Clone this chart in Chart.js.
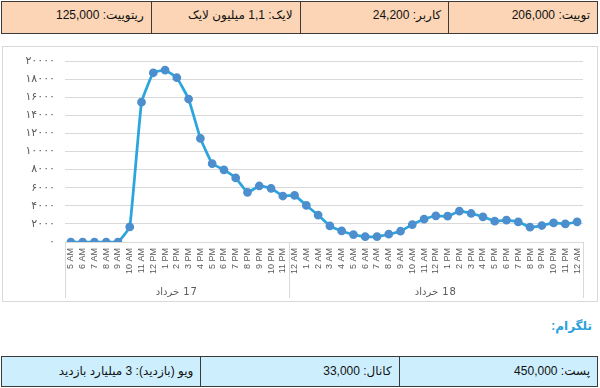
<!DOCTYPE html>
<html>
<head>
<meta charset="utf-8">
<script src="https://cdn.jsdelivr.net/npm/chart.js@4.4.1/dist/chart.umd.min.js"></script>
<style>
  html, body { margin: 0; padding: 0; background: #fff; }
  body { width: 600px; height: 388px; position: relative; overflow: hidden;
         font-family: "Liberation Sans", "DejaVu Sans", sans-serif; }
  .row { position: absolute; display: flex; direction: rtl; box-sizing: border-box;
         border: 1px solid #3a3a3a; }
  .row div { box-sizing: border-box; border-left: 1px solid #3a3a3a; font-size: 12px;
             color: #111; padding: 0 7px; text-align: right; }
  .row div:last-child { border-left: none; }
  #top { left: 1px; top: 1px; width: 597px; height: 33px; background: #fbd5b5; }
  #top div { width: 25%; padding-top: 6px; }
  #bottom { left: 1px; top: 356px; width: 597px; height: 31px; background: #cdeffd; }
  #bottom div { width: 33.4%; line-height: 29px; }
  #tg { position: absolute; right: 8px; top: 319px; direction: rtl; font-size: 12px;
        font-weight: bold; color: #27a1da; }
  #box { position: absolute; left: 2px; top: 46px; width: 596px; height: 256px;
         border: 1px solid #d9d9d9; box-sizing: border-box; }
  #wrap { position: absolute; left: 0; top: 0; width: 594px; height: 254px; }
</style>
</head>
<body>

<div id="top" class="row">
  <div>توییت: 206,000</div>
  <div>کاربر: 24,200</div>
  <div>لایک: 1,1 میلیون لایک</div>
  <div>ریتوییت: 125,000</div>
</div>

<div id="box"><div id="wrap"><canvas id="chart"></canvas></div></div>

<div id="tg">تلگرام:</div>

<div id="bottom" class="row">
  <div>پست: 450,000</div>
  <div>کانال: 33,000</div>
  <div>ویو (بازدید): 3 میلیارد بازدید</div>
</div>

<script>
'use strict';

// ─── DATA ────────────────────────────────────────────────────────────────────

const hours = [
  '5 AM', '6 AM', '7 AM', '8 AM', '9 AM', '10 AM', '11 AM', '12 PM', '1 PM', '2 PM',
  '3 PM', '4 PM', '5 PM', '6 PM', '7 PM', '8 PM', '9 PM', '10 PM', '11 PM',
  '12 AM', '1 AM', '2 AM', '3 AM', '4 AM', '5 AM', '6 AM', '7 AM', '8 AM', '9 AM',
  '10 AM', '11 AM', '12 PM', '1 PM', '2 PM', '3 PM', '4 PM', '5 PM', '6 PM', '7 PM',
  '8 PM', '9 PM', '10 PM', '11 PM', '12 AM',
];

const tweets = [
  0, 0, 0, 0, 0, 1670, 15450, 18700, 19000, 18150,
  15800, 11450, 8670, 7970, 7080, 5490, 6190, 5930, 5080,
  5150, 4040, 2970, 1780, 1220, 820, 600, 600, 860, 1190,
  1930, 2520, 2890, 2850, 3410, 3150, 2780, 2300, 2410, 2220,
  1630, 1820, 2110, 2000, 2220,
];

const dayNames = ['17 خرداد', '18 خرداد'];
const daySizes = [19, 25];

const yTicks = [0, 2000, 4000, 6000, 8000, 10000, 12000, 14000, 16000, 18000, 20000];

// ─── HELPERS ─────────────────────────────────────────────────────────────────

const faDigits = '۰۱۲۳۴۵۶۷۸۹';
const toFa = v => String(v).replace(/\d/g, d => faDigits[d]);

// separators + day names under the hour labels
const dayGroups = {
  id: 'dayGroups',
  afterDraw(chart) {
    const { ctx, scales: { x } } = chart;
    const step = x.getPixelForValue(1) - x.getPixelForValue(0);
    const top = x.top;
    const bottom = chart.height - 3;

    ctx.save();
    ctx.strokeStyle = '#d9d9d9';
    ctx.lineWidth = 1;

    let start = 0;
    const edges = [x.getPixelForValue(0) - step / 2];
    daySizes.forEach(n => {
      start += n;
      edges.push(x.getPixelForValue(start - 1) + step / 2);
    });

    edges.forEach(px => {
      const p = Math.round(px) + 0.5;
      ctx.beginPath();
      ctx.moveTo(p, top);
      ctx.lineTo(p, bottom);
      ctx.stroke();
    });

    ctx.fillStyle = '#595959';
    ctx.font = '10px "DejaVu Sans"';
    ctx.direction = 'rtl';
    ctx.textAlign = 'center';
    ctx.textBaseline = 'middle';
    ctx.letterSpacing = '1px';
    dayNames.forEach((name, i) => {
      ctx.fillText(name, (edges[i] + edges[i + 1]) / 2, 245);
    });
    ctx.restore();
  },
};

// ─── CHART ───────────────────────────────────────────────────────────────────

const chart = new Chart(document.getElementById('chart'), {
  type: 'line',
  data: {
    labels: hours,
    datasets: [{
      data: tweets,
      borderColor: '#2ba5de',
      borderWidth: 2.75,
      pointBackgroundColor: '#4d8fce',
      pointBorderColor: '#4d8fce',
      pointRadius: 3,
      tension: 0.1,
      fill: false,
    }],
  },
  options: {
    responsive: true,
    maintainAspectRatio: false,
    animation: false,
    layout: { padding: { top: 14, right: 14, left: 0, bottom: 0 } },
    plugins: { legend: { display: false }, tooltip: { enabled: false } },
    scales: {
      x: {
        offset: true,
        grid: { display: false, drawTicks: false },
        border: { display: true, color: '#d9d9d9' },
        ticks: {
          autoSkip: false,
          minRotation: 90,
          maxRotation: 90,
          padding: 6,
          color: '#595959',
          font: { family: 'Liberation Sans', size: 9 },
        },
        afterFit: s => { s.height = 59; },
      },
      y: {
        min: 0,
        max: 20000,
        afterBuildTicks: s => { s.ticks = yTicks.map(v => ({ value: v })); },
        grid: { color: '#d9d9d9', drawTicks: false },
        border: { display: false },
        ticks: {
          padding: 10,
          color: '#595959',
          font: { family: 'DejaVu Sans', size: 11 },
          callback: v => toFa(v),
        },
        // tick padding would otherwise push the plot down
        afterFit: s => { s.width = 62; s.paddingTop = 0; },
      },
    },
  },
  plugins: [dayGroups],
});

// wide letter spacing on the y labels, like the original
const yScale = chart.scales.y;
const baseDrawLabels = yScale.drawLabels;
yScale.drawLabels = function (area) {
  this.ctx.save();
  this.ctx.letterSpacing = '2.2px';
  baseDrawLabels.call(this, area);
  this.ctx.restore();
};
chart.draw();
</script>
</body>
</html>
